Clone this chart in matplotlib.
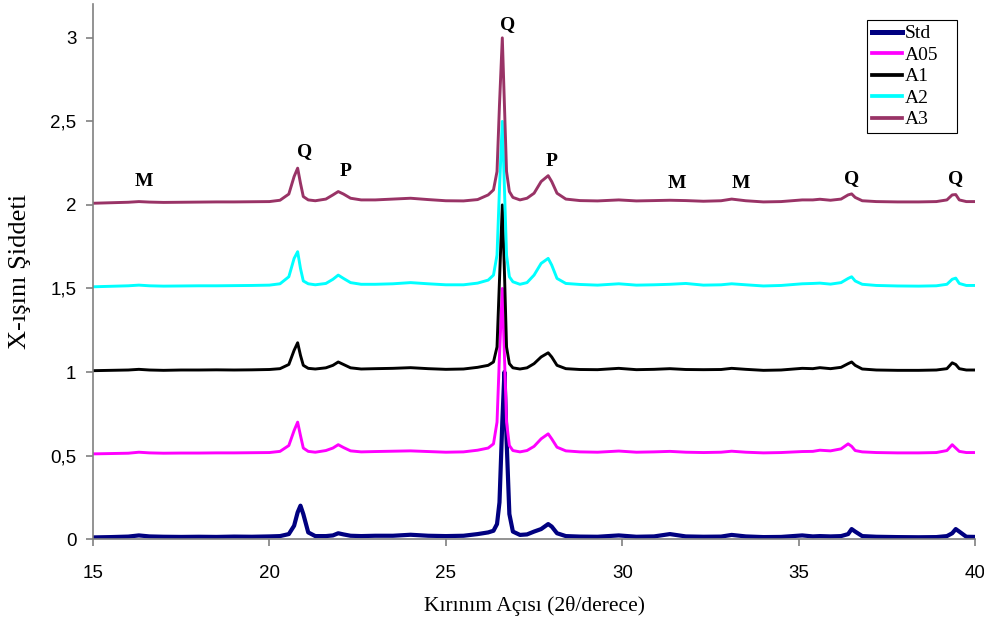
import matplotlib
matplotlib.use("Agg")
import matplotlib.pyplot as plt
from matplotlib.ticker import FuncFormatter

# 2-theta grid (degrees)
two_theta = [
    15.0, 15.5, 16.0, 16.3, 16.6, 17.0, 17.5, 18.0, 18.5, 19.0,
    19.5, 20.0, 20.3, 20.55, 20.7, 20.8, 20.88, 20.96, 21.1, 21.3,
    21.6, 21.8, 21.95, 22.1, 22.3, 22.6, 23.0, 23.5, 24.0, 24.5,
    25.0, 25.5, 25.9, 26.2, 26.35, 26.45, 26.52, 26.6, 26.66, 26.72,
    26.8, 26.9, 27.1, 27.3, 27.5, 27.7, 27.9, 28.0, 28.15, 28.4,
    28.8, 29.3, 29.9, 30.4, 30.9, 31.35, 31.8, 32.3, 32.8, 33.1,
    33.5, 34.0, 34.5, 35.1, 35.4, 35.6, 35.9, 36.2, 36.4, 36.5,
    36.6, 36.8, 37.2, 37.8, 38.4, 38.9, 39.2, 39.35, 39.45, 39.55,
    39.75, 40.0,
]

std = [
    0.010, 0.012, 0.015, 0.022, 0.016, 0.014, 0.013, 0.014, 0.013, 0.015,
    0.014, 0.016, 0.018, 0.030, 0.080, 0.160, 0.200, 0.150, 0.040, 0.018,
    0.018, 0.022, 0.035, 0.028, 0.020, 0.018, 0.020, 0.020, 0.026, 0.020,
    0.018, 0.020, 0.030, 0.040, 0.050, 0.090, 0.220, 0.700, 1.000, 0.600,
    0.150, 0.045, 0.025, 0.028, 0.045, 0.060, 0.090, 0.075, 0.035, 0.018,
    0.015, 0.014, 0.022, 0.014, 0.016, 0.030, 0.016, 0.014, 0.015, 0.025,
    0.016, 0.012, 0.013, 0.022, 0.016, 0.018, 0.016, 0.018, 0.030, 0.060,
    0.045, 0.018, 0.014, 0.012, 0.011, 0.012, 0.018, 0.035, 0.060, 0.045,
    0.014, 0.013,
]

a05 = [
    0.510, 0.512, 0.514, 0.520, 0.516, 0.514, 0.515, 0.515, 0.516, 0.516,
    0.517, 0.518, 0.525, 0.560, 0.650, 0.700, 0.620, 0.545, 0.525, 0.520,
    0.530, 0.545, 0.565, 0.548, 0.528, 0.522, 0.524, 0.526, 0.528, 0.524,
    0.520, 0.522, 0.532, 0.545, 0.570, 0.700, 1.100, 1.500, 1.100, 0.700,
    0.560, 0.530, 0.522, 0.530, 0.555, 0.600, 0.630, 0.600, 0.550, 0.528,
    0.522, 0.520, 0.527, 0.520, 0.522, 0.525, 0.520, 0.518, 0.520, 0.526,
    0.520, 0.516, 0.518, 0.524, 0.525, 0.532, 0.528, 0.540, 0.570, 0.555,
    0.530, 0.522, 0.518, 0.516, 0.516, 0.518, 0.530, 0.565, 0.545, 0.525,
    0.518, 0.518,
]

a1 = [
    1.008, 1.010, 1.012, 1.016, 1.012, 1.010, 1.012, 1.012, 1.013, 1.012,
    1.013, 1.015, 1.020, 1.045, 1.130, 1.175, 1.100, 1.040, 1.022, 1.018,
    1.025, 1.040, 1.060, 1.045, 1.025, 1.018, 1.020, 1.022, 1.026, 1.020,
    1.016, 1.018, 1.028, 1.040, 1.060, 1.150, 1.550, 2.000, 1.600, 1.150,
    1.050, 1.025, 1.018, 1.025, 1.050, 1.090, 1.115, 1.090, 1.040, 1.020,
    1.015, 1.014, 1.022, 1.014, 1.016, 1.020, 1.015, 1.014, 1.015, 1.022,
    1.016, 1.010, 1.012, 1.022, 1.020, 1.026, 1.020, 1.028, 1.050, 1.060,
    1.040, 1.018, 1.012, 1.010, 1.010, 1.012, 1.020, 1.055, 1.045, 1.020,
    1.012, 1.012,
]

a2 = [
    1.510, 1.513, 1.516, 1.520, 1.516, 1.514, 1.515, 1.516, 1.516, 1.517,
    1.518, 1.520, 1.528, 1.570, 1.680, 1.720, 1.620, 1.545, 1.528, 1.522,
    1.530, 1.555, 1.580, 1.560, 1.535, 1.525, 1.525, 1.528, 1.535, 1.528,
    1.522, 1.522, 1.532, 1.550, 1.580, 1.700, 2.100, 2.500, 2.100, 1.700,
    1.570, 1.540, 1.525, 1.535, 1.580, 1.650, 1.680, 1.640, 1.560, 1.530,
    1.524, 1.520, 1.528, 1.520, 1.522, 1.525, 1.530, 1.520, 1.522, 1.528,
    1.522, 1.515, 1.518, 1.528, 1.530, 1.532, 1.526, 1.535, 1.560, 1.570,
    1.545, 1.525, 1.518, 1.515, 1.514, 1.516, 1.525, 1.555, 1.562, 1.530,
    1.518, 1.518,
]

a3 = [
    2.010, 2.013, 2.016, 2.020, 2.017, 2.015, 2.016, 2.017, 2.018, 2.018,
    2.019, 2.020, 2.028, 2.065, 2.170, 2.220, 2.130, 2.050, 2.030, 2.025,
    2.035, 2.060, 2.080, 2.065, 2.040, 2.030, 2.030, 2.035, 2.040, 2.032,
    2.025, 2.024, 2.032, 2.060, 2.090, 2.200, 2.600, 3.000, 2.600, 2.200,
    2.080, 2.045, 2.030, 2.040, 2.070, 2.140, 2.175, 2.140, 2.070, 2.035,
    2.026, 2.024, 2.030, 2.024, 2.026, 2.028, 2.026, 2.022, 2.025, 2.035,
    2.025, 2.018, 2.020, 2.030, 2.030, 2.034, 2.028, 2.035, 2.060, 2.066,
    2.045, 2.025, 2.020, 2.018, 2.018, 2.020, 2.030, 2.060, 2.062, 2.030,
    2.020, 2.020,
]

series_names = ["Std", "A05", "A1", "A2", "A3"]
series_values = [std, a05, a1, a2, a3]
series_colors = ["#000080", "#FF00FF", "#000000", "#00FFFF", "#993366"]
series_widths = [3.0, 2.1, 2.1, 2.1, 2.1]

# phase labels above the top pattern
peak_labels = ["M", "Q", "P", "Q", "P", "M", "M", "Q", "Q"]
peak_x = [16.45, 21.0, 22.15, 26.75, 28.0, 31.55, 33.35, 36.5, 39.45]
peak_y = [2.14, 2.32, 2.20, 3.08, 2.26, 2.13, 2.13, 2.16, 2.16]

fig = plt.figure(figsize=(9.84, 6.32), dpi=100)
ax = fig.add_axes([0.0945, 0.147, 0.8965, 0.846])

for name, vals, col, lw in zip(series_names, series_values, series_colors, series_widths):
    ax.plot(two_theta, vals, color=col, lw=lw, label=name, solid_joinstyle="round")

for lab, px, py in zip(peak_labels, peak_x, peak_y):
    ax.text(px, py, lab, ha="center", va="center", fontsize=14,
            fontweight="bold", family="Liberation Serif")

ax.set_xlim(15, 40)
ax.set_ylim(0, 3.2)
ax.set_xticks([15, 20, 25, 30, 35, 40])
ax.set_yticks([0, 0.5, 1, 1.5, 2, 2.5, 3])
ax.yaxis.set_major_formatter(FuncFormatter(lambda v, p: f"{v:g}".replace(".", ",")))

for s in ["top", "right"]:
    ax.spines[s].set_visible(False)
for s in ["left", "bottom"]:
    ax.spines[s].set_color("#808080")
    ax.spines[s].set_linewidth(1.2)
ax.tick_params(direction="out", length=5, width=1.2, color="#808080",
               labelsize=13.5)
ax.tick_params(axis="x", pad=14)
ax.tick_params(axis="y", pad=7)
for t in ax.get_xticklabels() + ax.get_yticklabels():
    t.set_family("Liberation Sans")

ax.set_xlabel("Kırınım Açısı (2θ/derece)", family="Liberation Serif",
              fontsize=15.5, labelpad=10)
ax.set_ylabel("X-ışını Şiddeti", family="Liberation Serif",
              fontsize=19, labelpad=14)

leg = ax.legend(loc="upper left", bbox_to_anchor=(0.8776, 0.0, 0.102, 0.971),
                mode="expand", borderaxespad=0, fancybox=False, framealpha=1,
                edgecolor="black", handlelength=1.55, handletextpad=0.15,
                labelspacing=0.2, borderpad=0.25,
                prop={"family": "Liberation Serif", "size": 14})
leg.get_frame().set_linewidth(0.8)
for h, w in zip(leg.get_lines(), series_widths):
    h.set_linewidth(w + 0.6)

fig.savefig("out.png", dpi=100)
